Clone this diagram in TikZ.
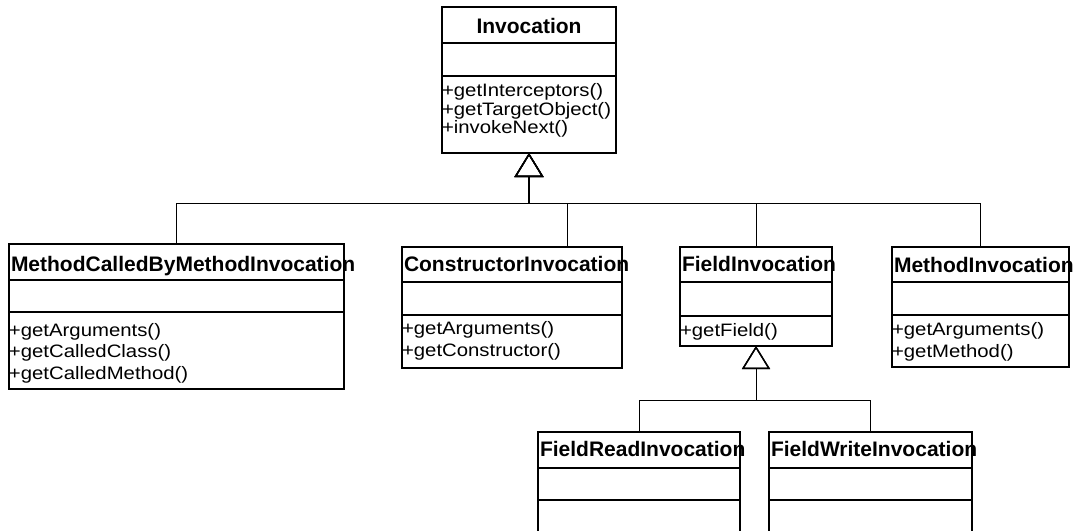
\documentclass[tikz,border=0pt]{standalone}
\usepackage{fontspec}
\setmainfont{Liberation Sans}
\usepackage{graphicx}
\usetikzlibrary{arrows.meta,calc}

\newcommand\ttl[1]{{\fontsize{21}{25}\selectfont\bfseries #1}}
\newcommand\ops[2]{\scalebox{1.13}[1]{\fontsize{18}{#1}\selectfont\begin{tabular}[t]{@{}l@{}}#2\end{tabular}}}

% name, x1, y1, x2, y2, header line y, divider y
\newcommand\classbox[7]{%
  \node[box, minimum width={(#4-#2)*1pt}, minimum height={(#5-#3)*1pt}] (#1) at ({(#2+#4)/2},{(#3+#5)/2}) {};
  \draw[boxline] (#1.west |- 0,#6) -- (#1.east |- 0,#6);
  \draw[boxline] (#1.west |- 0,#7) -- (#1.east |- 0,#7);
}

\tikzset{
  box/.style={draw, line width=1.7pt, inner sep=0pt, outer sep=0pt, fill=white},
  boxline/.style={line width=1.7pt},
  txt/.style={inner sep=0pt, outer sep=0pt},
  gen/.style={line width=1pt, -{Triangle[open, length=24pt, width=29pt, line width=1.4pt]}},
  gen2/.style={line width=1pt, -{Triangle[open, length=23pt, width=28pt, line width=1.4pt]}},
  stem/.style={line width=1.8pt},
}

\begin{document}
\begin{tikzpicture}[x=1pt, y=-1pt]
\useasboundingbox (0,0) rectangle (1075,530);
\clip (0,0) rectangle (1075,530);

% classes
\classbox{inv}{442}{7}{616}{153}{43}{76}
\classbox{mcbmi}{9}{244}{344}{389}{280}{312}
\classbox{ci}{402}{247}{622}{368}{282}{315}
\classbox{fi}{680}{247}{832}{346}{282}{316}
\classbox{mi}{892}{247}{1069}{367}{282}{315}
\classbox{fri}{538}{432}{740}{545}{468}{500}
\classbox{fwi}{769}{432}{972}{545}{468}{500}

% texts
\node[txt, anchor=base] (inv-t) at (529,33.3) {\ttl{Invocation}};
\node[txt, anchor=base west] (inv-o) at (442,96.7) {\ops{18.3pt}{+getInterceptors()\\+getTargetObject()\\+invokeNext()}};

\node[txt, anchor=base west] (mcbmi-t) at (11,271.7) {\ttl{MethodCalledByMethodInvocation}};
\node[txt, anchor=base west] (mcbmi-o) at (9,336) {\ops{21.7pt}{+getArguments()\\+getCalledClass()\\+getCalledMethod()}};

\node[txt, anchor=base west] (ci-t) at (404,271.7) {\ttl{ConstructorInvocation}};
\node[txt, anchor=base west] (ci-o) at (402,334) {\ops{22pt}{+getArguments()\\+getConstructor()}};

\node[txt, anchor=base west] (fi-t) at (682,271.7) {\ttl{FieldInvocation}};
\node[txt, anchor=base west] (fi-o) at (680,336) {\ops{22pt}{+getField()}};

\node[txt, anchor=base west] (mi-t) at (894,272) {\ttl{MethodInvocation}};
\node[txt, anchor=base west] (mi-o) at (892,335.7) {\ops{22pt}{+getArguments()\\+getMethod()}};

\node[txt, anchor=base west] (fri-t) at (540,456.7) {\ttl{FieldReadInvocation}};
\node[txt, anchor=base west] (fwi-t) at (771,456.7) {\ttl{FieldWriteInvocation}};

% generalizations to Invocation
\coordinate (j1) at (529,203);
\draw[gen] (mcbmi.north) |- (j1) -- (inv.south);
\draw[gen] ($(ci.north west)+(165,0)$) |- (j1) -- (inv.south);
\draw[gen] (fi.north) |- (j1) -- (inv.south);
\draw[gen] (mi.north) |- (j1) -- (inv.south);
\draw[stem] (j1) -- ($(inv.south)+(0,24)$);

% generalizations to FieldInvocation
\coordinate (j2) at (756,400);
\draw[gen2] (fri.north) |- (j2) -- (fi.south);
\draw[gen2] (fwi.north) |- (j2) -- (fi.south);
\end{tikzpicture}
\end{document}
